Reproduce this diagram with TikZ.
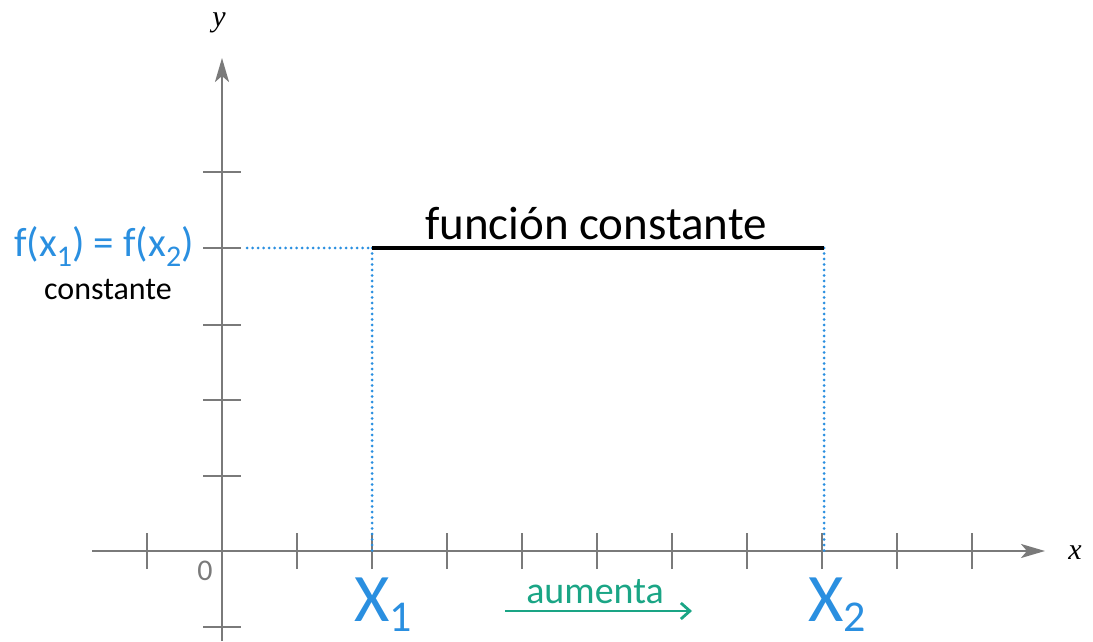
\documentclass[tikz,border=0pt]{standalone}
\usepackage{fontspec}
\setmainfont{Carlito}
\newfontfamily\serifx{Liberation Serif}
\usetikzlibrary{arrows.meta}
\definecolor{axgray}{HTML}{7A7A7A}
\definecolor{fblue}{HTML}{2A8FE0}
\definecolor{fgreen}{HTML}{1AA585}
\newcommand\lowsub[3]{\raisebox{-#2pt}[\height][0pt]{\fontsize{#1}{#1}\selectfont #3}}
\tikzset{
  axis/.style={axgray, line width=2.2pt, -{Stealth[length=24pt,width=14pt,inset=6pt]}},
  tickmark/.style={axgray, line width=2pt},
  guide/.style={fblue, line width=3pt, line cap=round, dash pattern=on 0pt off 5.5pt},
  fline/.style={black, line width=3.2pt},
}
\begin{document}
\begin{tikzpicture}[x=1pt,y=1pt]
\useasboundingbox (0,0) rectangle (1093,641);
\coordinate (O) at (222,90);
\coordinate (xs) at (92,90);
\coordinate (xe) at (1045,90);
\coordinate (ys) at (222,0);
\coordinate (ye) at (222,583);
\draw[axis] (xs) -- (xe);
\draw[axis] (ys) -- (ye);
\foreach \x in {147,297,372,447,522,597,672,747,822,897,972}
  \draw[tickmark] (\x,72) -- (\x,108);
\foreach \y in {14,165,241,316,393,469}
  \draw[tickmark] (203,\y) -- (241,\y);
\node[font=\fontsize{30}{30}\serifx\itshape] (xl) at (1075,88) {x};
\node[font=\fontsize{30}{30}\serifx\itshape] (yl) at (219,618) {y};
\node[axgray, font=\fontsize{30}{30}\selectfont] (zero) at (205,70) {0};
% constant function
\coordinate (A) at (372,393);
\coordinate (B) at (824,393);
\coordinate (A0) at (372,90);
\coordinate (B0) at (824,90);
\coordinate (L) at (247,393);
\draw[guide] (L) -- (A);
\draw[guide] (A) -- (A0);
\draw[guide] (B) -- (B0);
\draw[fline] (A) -- (B);
\node[font=\fontsize{47}{47}\selectfont, anchor=base, inner sep=0pt] (fc) at (596,401) {función constante};
\node[fblue, font=\fontsize{41}{41}\selectfont, anchor=base, inner sep=0pt] (fx) at (104,384)
  {f(x\lowsub{30}{10}{1}) = f(x\lowsub{30}{10}{2})};
\node[font=\fontsize{32}{32}\selectfont, anchor=base, inner sep=0pt] (cst) at (108,341) {constante};
\node[fblue, font=\fontsize{68}{68}\selectfont, anchor=base west, inner sep=0pt] (x1) at (354,20) {X\lowsub{44}{10}{1}};
\node[fblue, font=\fontsize{68}{68}\selectfont, anchor=base west, inner sep=0pt] (x2) at (808,20) {X\lowsub{44}{10}{2}};
\node[fgreen, font=\fontsize{38}{38}\selectfont, anchor=base, inner sep=0pt] (au) at (595,38) {aumenta};
\coordinate (as) at (505,30);
\coordinate (ae) at (692,30);
\draw[fgreen, line width=2.8pt, -{Straight Barb[length=9pt,width=16pt]}] (as) -- (ae);
\end{tikzpicture}
\end{document}
